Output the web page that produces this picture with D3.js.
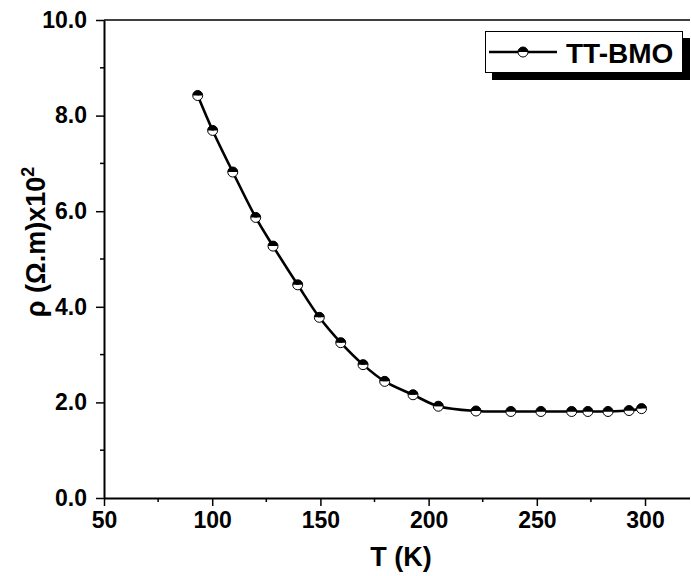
<!DOCTYPE html>
<html>
<head>
<meta charset="utf-8">
<script src="https://cdn.jsdelivr.net/npm/d3@7"></script>
<style>
  html, body { margin: 0; padding: 0; background: #fff; }
  svg { display: block; }
  text { font-family: "Liberation Sans", Arial, sans-serif; font-weight: bold; fill: #000; }
</style>
</head>
<body>
<svg id="chart" width="691" height="576"></svg>
<script>
// ---- data ----
const temperatureK = [93.3, 100.2, 109.5, 120.1, 128.1, 139.5, 149.5, 159.4, 169.7, 179.7,
                      192.8, 204.5, 221.9, 238.0, 251.9, 266.1, 273.6, 282.9, 292.6, 298.4];
const resistivity = [8.42, 7.69, 6.82, 5.87, 5.27, 4.46, 3.78, 3.25, 2.79, 2.44,
                     2.16, 1.92, 1.82, 1.81, 1.81, 1.81, 1.81, 1.81, 1.83, 1.87];
const xTicks = [50, 100, 150, 200, 250, 300];
const xMinorTicks = [75, 125, 175, 225, 275];
const yTicks = [0, 2, 4, 6, 8, 10];
const yMinorTicks = [1, 3, 5, 7, 9];
const seriesName = "TT-BMO";

(function () {
const svg = d3.select("#chart");
const mLeft = 104, mRight = 690, mTop = 20, mBottom = 498;

const x = d3.scaleLinear().domain([50, 320]).range([mLeft, 688.3]);
const y = d3.scaleLinear().domain([0, 10]).range([mBottom, mTop]);

// frame line (top)
svg.append("line").attr("x1", mLeft).attr("x2", mRight).attr("y1", mTop).attr("y2", mTop)
  .attr("stroke", "#000").attr("stroke-width", 1.5);

// X axis
const xAxis = svg.append("g").attr("transform", `translate(0,${mBottom})`)
  .call(d3.axisBottom(x).tickValues(xTicks).tickSize(8).tickSizeOuter(0).tickFormat(d3.format("d")));
xAxis.select(".domain").attr("d", `M${mLeft},0.5H${mRight}`).attr("stroke-width", 2);
xAxis.selectAll(".tick line").attr("stroke-width", 1.5);
xAxis.selectAll(".tick text").attr("font-size", 23).attr("y", 14).attr("dy", "0.71em");
xAxis.selectAll(".minor").data(xMinorTicks).enter().append("line").attr("class", "minor")
  .attr("x1", d => x(d)).attr("x2", d => x(d)).attr("y1", 0).attr("y2", 4)
  .attr("stroke", "#000").attr("stroke-width", 1.5);

// Y axis
const yAxis = svg.append("g").attr("transform", `translate(${mLeft},0)`)
  .call(d3.axisLeft(y).tickValues(yTicks).tickSize(8).tickSizeOuter(0).tickFormat(d3.format(".1f")));
yAxis.select(".domain").attr("stroke-width", 2);
yAxis.selectAll(".tick line").attr("stroke-width", 1.5);
yAxis.selectAll(".tick text").attr("font-size", 23).attr("x", -17);
yAxis.selectAll(".minor").data(yMinorTicks).enter().append("line").attr("class", "minor")
  .attr("x1", 0).attr("x2", -4).attr("y1", d => y(d)).attr("y2", d => y(d))
  .attr("stroke", "#000").attr("stroke-width", 1.5);
svg.selectAll(".domain").attr("stroke", "#000");

// axis titles
svg.append("text").attr("x", 401).attr("y", 566).attr("text-anchor", "middle")
  .attr("font-size", 27).text("T (K)");
const yt = svg.append("text").attr("transform", "translate(45,242) rotate(-90)")
  .attr("text-anchor", "middle").attr("font-size", 27);
yt.append("tspan").text("ρ (Ω.m)x10");
yt.append("tspan").attr("font-size", 18).attr("dy", -11).text("2");

// data
const pts = temperatureK.map((t, i) => [t, resistivity[i]]);
const line = d3.line().x(d => x(d[0])).y(d => y(d[1])).curve(d3.curveCatmullRom.alpha(0.5));
svg.append("path").datum(pts).attr("d", line).attr("fill", "none")
  .attr("stroke", "#000").attr("stroke-width", 2.6);

const r = 5;
function marker(g) {
  g.append("path").attr("d", d3.arc()({innerRadius: 0, outerRadius: r, startAngle: Math.PI / 2, endAngle: Math.PI * 1.5}))
    .attr("fill", "#fff");
  g.append("path").attr("d", d3.arc()({innerRadius: 0, outerRadius: r, startAngle: -Math.PI / 2, endAngle: Math.PI / 2}))
    .attr("fill", "#000");
  g.append("circle").attr("r", r).attr("fill", "none").attr("stroke", "#000").attr("stroke-width", 1);
}
svg.selectAll(".mk").data(pts).enter().append("g").attr("class", "mk")
  .attr("transform", d => `translate(${x(d[0])},${y(d[1])})`).each(function () { marker(d3.select(this)); });

// legend
const lg = svg.append("g");
lg.append("rect").attr("x", 492).attr("y", 38).attr("width", 198).attr("height", 42).attr("fill", "#000");
lg.append("rect").attr("x", 485.5).attr("y", 31.5).attr("width", 197).attr("height", 41)
  .attr("fill", "#fff").attr("stroke", "#000").attr("stroke-width", 1);
lg.append("line").attr("x1", 489).attr("x2", 557).attr("y1", 52).attr("y2", 52)
  .attr("stroke", "#000").attr("stroke-width", 2.6);
marker(lg.append("g").attr("transform", "translate(523,52)"));
lg.append("text").attr("x", 566).attr("y", 63).attr("font-size", 28).text(seriesName);
})();
</script>
</body>
</html>
